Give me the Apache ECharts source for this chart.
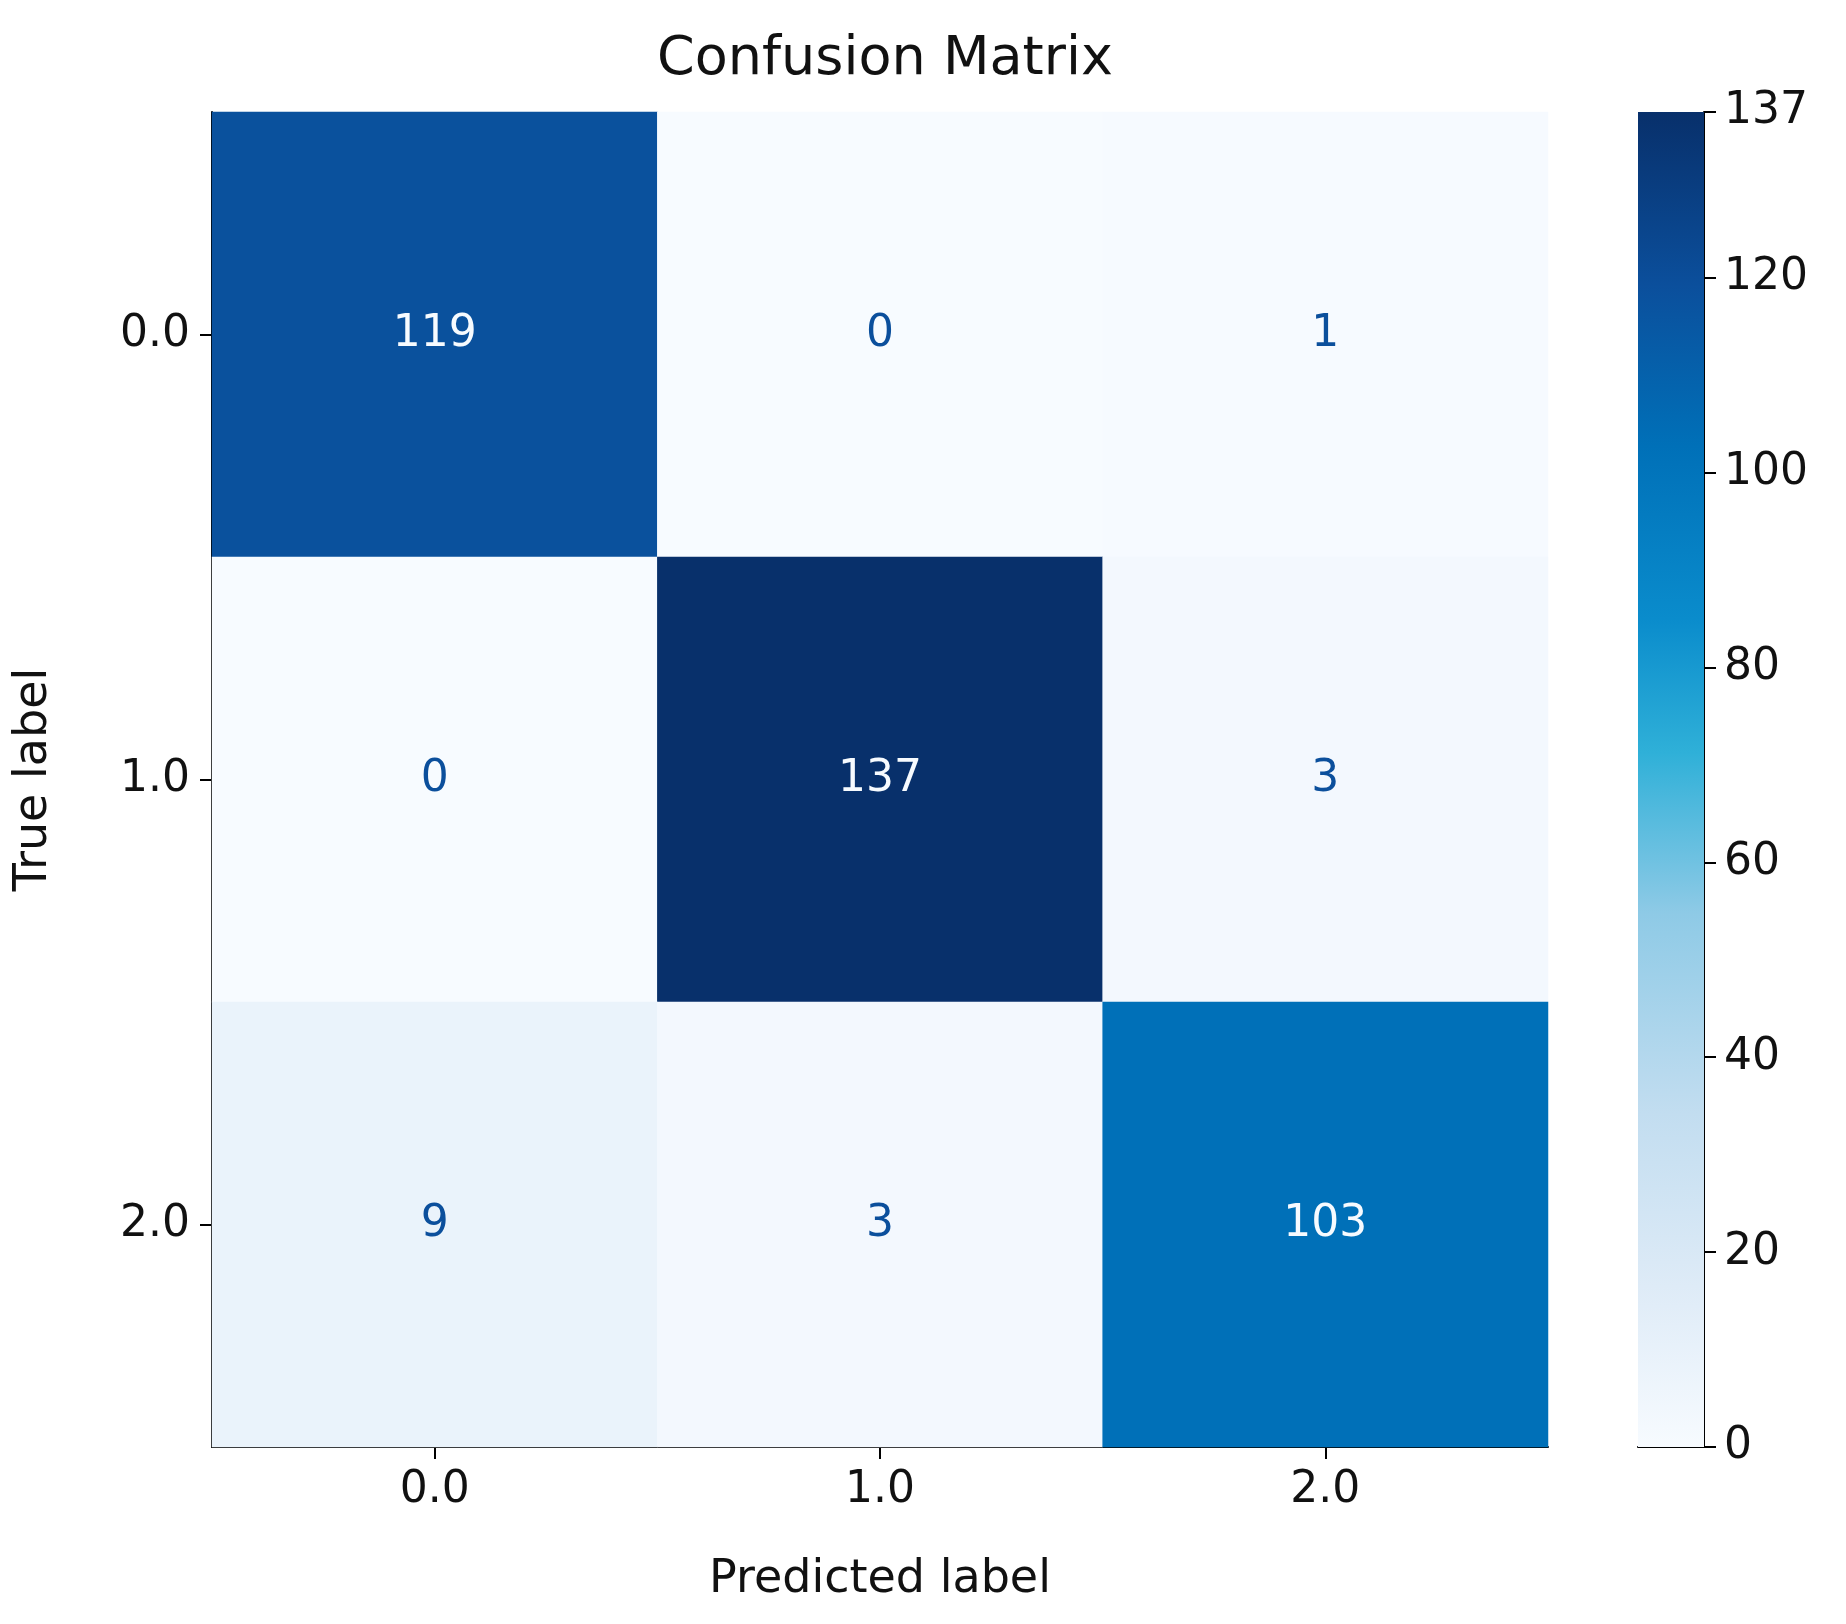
<!DOCTYPE html>
<html>
<head>
<meta charset="utf-8">
<script src="https://cdn.jsdelivr.net/npm/echarts@6/dist/echarts.min.js"></script>
<style>html,body{margin:0;background:#fff}#chart{width:1846px;height:1624px}</style>
</head>
<body>
<div id="chart"></div>
<script>
const predLabels = ['0.0', '1.0', '2.0'];
const trueLabels = ['0.0', '1.0', '2.0'];
const row0 = [119, 0, 1];
const row1 = [0, 137, 3];
const row2 = [9, 3, 103];
const rows = [row0, row1, row2];
const vmax = 137;

const blues = ['#f7fbff', '#deebf7', '#c2ddf0', '#8ecae6', '#2fb0d8', '#0a8ccc', '#0070b8', '#0b4f9c', '#08306b'];
const stops = [0, 0.12, 0.25, 0.4, 0.52, 0.62, 0.75, 0.87, 1];

const font = 'DejaVu Sans';
let data = [];
rows.forEach((r, i) => r.forEach((v, j) => {
    data.push({
        value: [j, i, v],
        label: {color: v > vmax / 2 ? '#f7fbff' : '#0b4f9c'}
    });
}));

const myChart = echarts.init(document.getElementById('chart'));
let option = {
    backgroundColor: '#fff',
    title: {
        text: 'Confusion Matrix', left: 880, top: 28, textAlign: 'center',
        textStyle: {fontFamily: font, fontSize: 54, fontWeight: 'normal', color: '#111'}
    },
    grid: [
        {left: 212, right: 298, top: 112, bottom: 177},
        {left: 1638, width: 66, top: 112, bottom: 177}
    ],
    xAxis: [
        {
            type: 'category', data: predLabels, gridIndex: 0,
            name: 'Predicted label', nameLocation: 'middle', nameGap: 110,
            nameTextStyle: {fontFamily: font, fontSize: 46, color: '#111'},
            axisLine: {show: true, onZero: false, lineStyle: {color: '#000', width: 2}},
            axisTick: {show: true, alignWithLabel: true, length: 12, lineStyle: {color: '#000', width: 2}},
            axisLabel: {fontFamily: font, fontSize: 44, color: '#111', margin: 22},
            splitLine: {show: false}
        },
        {
            type: 'category', data: [''], gridIndex: 1,
            axisLine: {show: true, lineStyle: {color: '#000', width: 2}},
            axisTick: {show: false}, axisLabel: {show: false}
        }
    ],
    yAxis: [
        {
            type: 'category', data: trueLabels, gridIndex: 0, inverse: true,
            name: 'True label', nameLocation: 'middle', nameGap: 155, nameRotate: 90,
            nameTextStyle: {fontFamily: font, fontSize: 46, color: '#111'},
            axisLine: {show: true, onZero: false, lineStyle: {color: '#000', width: 2}},
            axisTick: {show: true, alignWithLabel: true, length: 12, lineStyle: {color: '#000', width: 2}},
            axisLabel: {fontFamily: font, fontSize: 44, color: '#111', margin: 22},
            splitLine: {show: false}
        },
        {
            type: 'value', gridIndex: 1, position: 'right', min: 0, max: vmax, interval: 20,
            axisLine: {show: true, lineStyle: {color: '#000', width: 2}},
            axisTick: {show: true, length: 12, lineStyle: {color: '#000', width: 2}},
            axisLabel: {fontFamily: font, fontSize: 44, color: '#111', margin: 20},
            splitLine: {show: false}
        }
    ],
    visualMap: {
        show: false, min: 0, max: vmax, seriesIndex: 0, dimension: 2,
        inRange: {color: blues}
    },
    series: [
        {
            type: 'heatmap', xAxisIndex: 0, yAxisIndex: 0, data: data,
            label: {show: true, fontFamily: font, fontSize: 44},
            itemStyle: {borderWidth: 0}
        },
        {
            type: 'bar', xAxisIndex: 1, yAxisIndex: 1, data: [vmax],
            barWidth: '100%', silent: true,
            itemStyle: {
                color: new echarts.graphic.LinearGradient(0, 1, 0, 0,
                    stops.map((s, k) => ({offset: s, color: blues[k]})))
            }
        }
    ]
};
myChart.setOption(option);
</script>
</body>
</html>
